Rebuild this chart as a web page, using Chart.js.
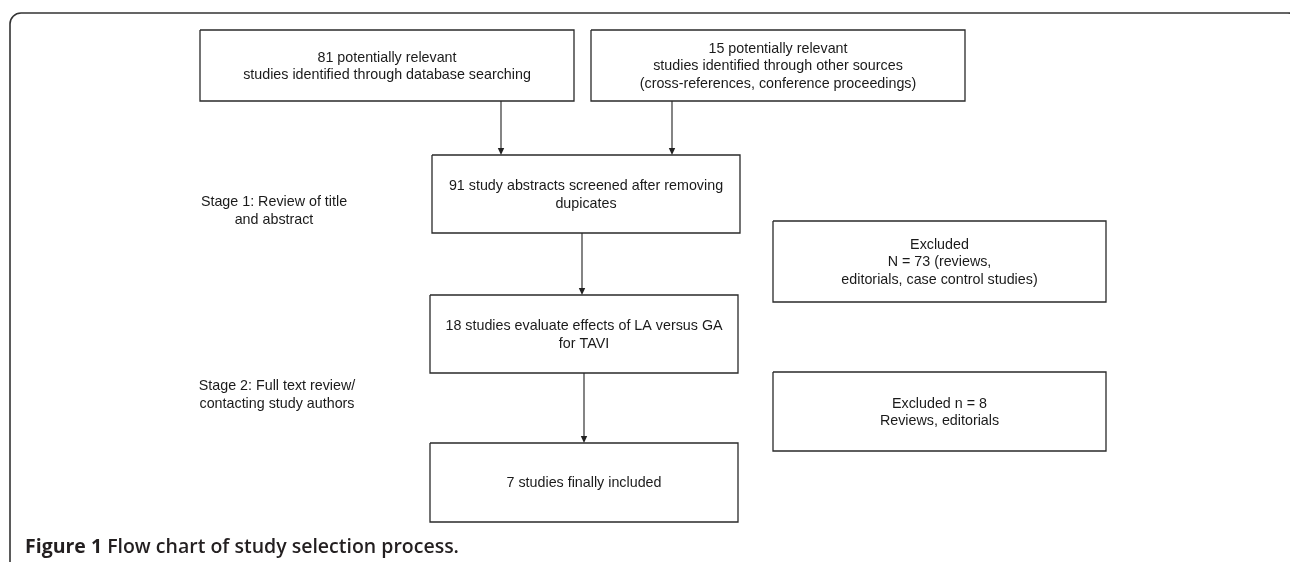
<!DOCTYPE html>
<html>
<head>
<meta charset="utf-8">
<script src="https://cdn.jsdelivr.net/npm/chart.js@4/dist/chart.umd.min.js"></script>
<style>
  html, body { margin: 0; padding: 0; background: #fff; }
  #wrap { position: relative; width: 1290px; height: 562px; }
</style>
</head>
<body>
<div id="wrap"><canvas id="flow"></canvas></div>
<script>
// ── flow chart data (units = reference picture) ────────────────────────────
const boxLeft   = [200, 591, 432, 430, 430, 773, 773];
const boxRight  = [574, 965, 740, 738, 738, 1106, 1106];
const boxTop    = [30, 30, 155, 295, 443, 221, 372];
const boxBottom = [101, 101, 233, 373, 522, 302, 451];
const boxText = [
    ['81 potentially relevant', 'studies identified through database searching'],
    ['15 potentially relevant', 'studies identified through other sources', '(cross-references, conference proceedings)'],
    ['91 study abstracts screened after removing', 'dupicates'],
    ['18 studies evaluate effects of LA versus GA', 'for TAVI'],
    ['7 studies finally included'],
    ['Excluded', 'N = 73 (reviews,', 'editorials, case control studies)'],
    ['Excluded n = 8', 'Reviews, editorials'],
];

const arrowX    = [501, 672, 582, 584];
const arrowFrom = [101, 101, 233, 373];
const arrowTo   = [155, 155, 295, 443];

const stageText = [
    ['Stage 1: Review of title', 'and abstract'],
    ['Stage 2: Full text review/', 'contacting study authors'],
];
const stageX = [274, 277];
const stageY = [211, 395];

const captionBold = 'Figure 1';
const captionRest = ' Flow chart of study selection process.';

// ── datasets ───────────────────────────────────────────────────────────────
const datasets = [];
boxLeft.forEach((l, i) => {
    const r = boxRight[i], t = boxTop[i], b = boxBottom[i];
    datasets.push({
        data: [{x: l, y: t}, {x: r, y: t}, {x: r, y: b}, {x: l, y: b}, {x: l, y: t}],
        borderColor: '#2a2a2a',
        borderWidth: 1.3,
        pointRadius: 0,
        tension: 0,
    });
});
arrowX.forEach((x, i) => {
    datasets.push({
        data: [{x, y: arrowFrom[i]}, {x, y: arrowTo[i] - 5}],
        borderColor: '#222',
        borderWidth: 1.1,
        pointRadius: 0,
        tension: 0,
    });
});

const flowPlugin = {
    id: 'flow',
    beforeDraw(chart) {
        const {ctx, scales: {x: sx, y: sy}} = chart;
        // outer frame (right side runs off the picture)
        ctx.save();
        ctx.strokeStyle = '#333';
        ctx.lineWidth = 1.6;
        ctx.beginPath();
        ctx.roundRect(sx.getPixelForValue(10), sy.getPixelForValue(13),
            sx.getPixelForValue(1299) - sx.getPixelForValue(10), 700, 11);
        ctx.stroke();
        ctx.restore();
    },
    afterDatasetsDraw(chart) {
        const {ctx, scales: {x: sx, y: sy}} = chart;
        ctx.save();
        // arrow heads
        ctx.fillStyle = '#222';
        arrowX.forEach((x, i) => {
            const px = sx.getPixelForValue(x), py = sy.getPixelForValue(arrowTo[i]);
            ctx.beginPath();
            ctx.moveTo(px, py);
            ctx.lineTo(px - 3.2, py - 7);
            ctx.lineTo(px + 3.2, py - 7);
            ctx.closePath();
            ctx.fill();
        });

        const lineH = 17.5;
        ctx.fillStyle = '#1a1a1a';
        ctx.textAlign = 'center';
        ctx.textBaseline = 'middle';
        ctx.font = '14.3px "Liberation Sans", Arial, sans-serif';
        boxText.forEach((lines, i) => {
            const cx = sx.getPixelForValue((boxLeft[i] + boxRight[i]) / 2);
            const cy = sy.getPixelForValue((boxTop[i] + boxBottom[i]) / 2) + 1;
            lines.forEach((s, k) => {
                ctx.fillText(s, cx, cy + (k - (lines.length - 1) / 2) * lineH);
            });
        });
        stageText.forEach((lines, i) => {
            const cx = sx.getPixelForValue(stageX[i]);
            const cy = sy.getPixelForValue(stageY[i]);
            lines.forEach((s, k) => {
                ctx.fillText(s, cx, cy + (k - (lines.length - 1) / 2) * lineH);
            });
        });

        // caption
        ctx.textAlign = 'left';
        ctx.textBaseline = 'alphabetic';
        ctx.fillStyle = '#231f20';
        const cx0 = sx.getPixelForValue(25), cyb = sy.getPixelForValue(553);
        ctx.font = 'bold 19.5px "Open Sans", Lato, sans-serif';
        ctx.fillText(captionBold, cx0, cyb);
        const w = ctx.measureText(captionBold).width;
        ctx.font = '600 19.5px "Open Sans", Lato, sans-serif';
        ctx.fillText(captionRest, cx0 + w, cyb);
        ctx.restore();
    },
};

new Chart(document.getElementById('flow'), {
    type: 'line',
    data: { datasets },
    options: {
        responsive: true,
        maintainAspectRatio: false,
        animation: false,
        layout: { padding: 0 },
        plugins: { legend: { display: false }, tooltip: { enabled: false } },
        scales: {
            x: { type: 'linear', min: 0, max: 1290, display: false },
            y: { type: 'linear', min: 0, max: 562, reverse: true, display: false },
        },
    },
    plugins: [flowPlugin],
});
</script>
</body>
</html>
